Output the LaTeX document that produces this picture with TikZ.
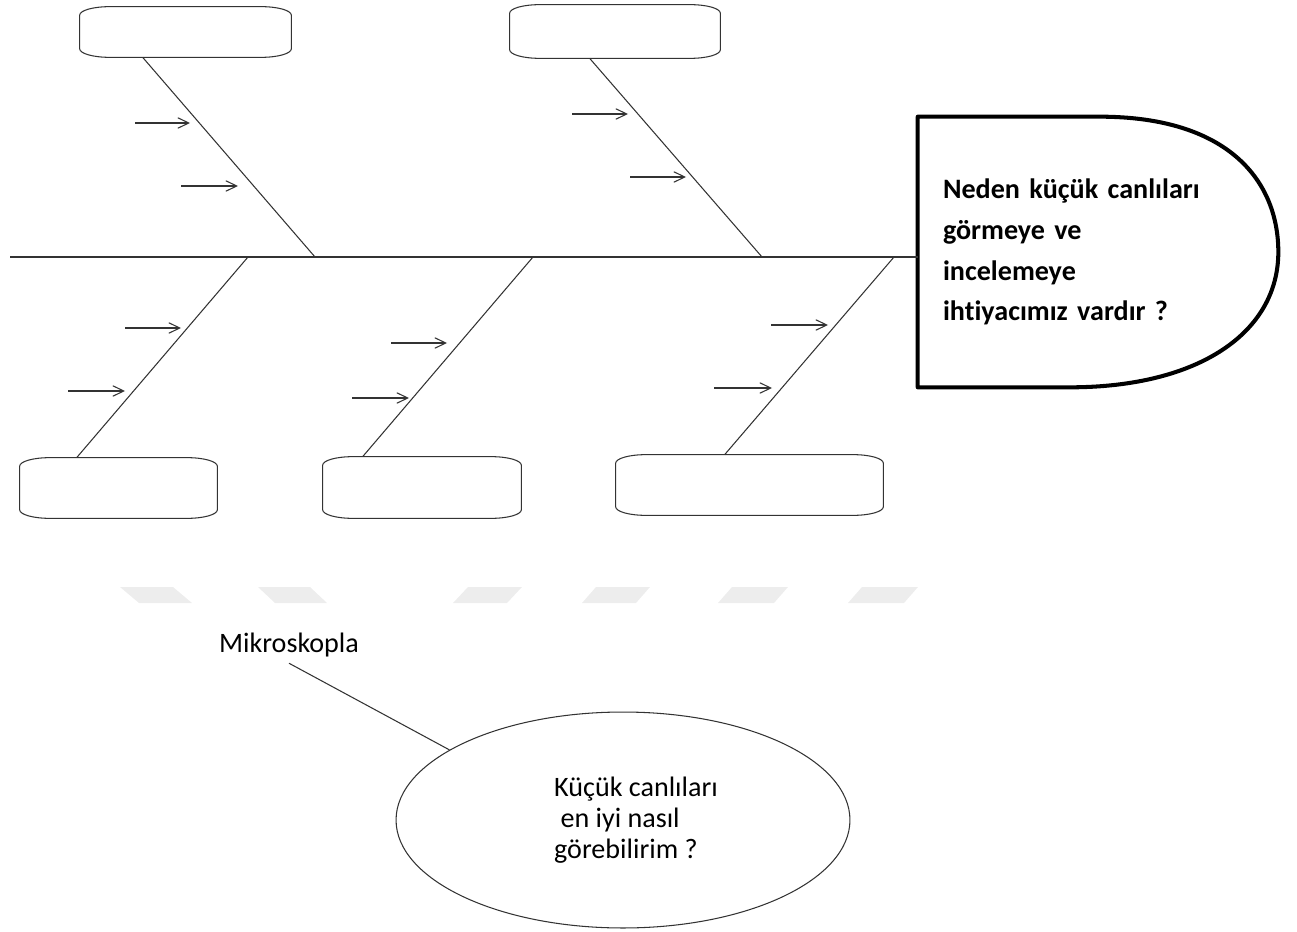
\documentclass[tikz,border=0pt]{standalone}
\usepackage{fontspec}
\setmainfont{Carlito}[Ligatures=NoCommon]
\newfontfamily\basfont{Carlito}[Ligatures=NoCommon, WordSpace=0.6]
\usetikzlibrary{arrows.meta,shapes.geometric}

\tikzset{
	ince/.style={line width=0.6pt, black!80},
	kutu/.style={draw=none, inner sep=0pt},
	okcuk/.style={ince, -{Straight Barb[length=2.2mm,width=2.1mm]}},
	filigran/.style={fill=black!7, draw=none},
	kalin/.style={line width=2.3pt, line join=round},
}

\newcommand{\kapsul}[1]{%
	\draw[ince] ([yshift=-0.17cm]#1.north west) arc[start angle=180, end angle=90, x radius=0.6cm, y radius=0.17cm]
	-- ([xshift=-0.6cm]#1.north east) arc[start angle=90, end angle=0, x radius=0.6cm, y radius=0.17cm]
	-- ([yshift=0.17cm]#1.south east) arc[start angle=0, end angle=-90, x radius=0.6cm, y radius=0.17cm]
	-- ([xshift=0.6cm]#1.south west) arc[start angle=270, end angle=180, x radius=0.6cm, y radius=0.17cm]
	-- cycle;}

\begin{document}
\begin{tikzpicture}[x=0.02cm, y=-0.02cm]
	\useasboundingbox (0,0) rectangle (1297,932);

	\foreach \a/\b/\c/\d in {120/173/192/139, 258/310/327/275, 468/522/507/453,
		596/650/636/582, 732/788/774/718, 862/918/904/848}
		\fill[filigran] (\a,587) -- (\b,587) -- (\c,603) -- (\d,603) -- cycle;

	\node [kutu, minimum width=4.22cm, minimum height=1cm] (kutu1) at (185.5,32) {};
	\node [kutu, minimum width=4.2cm, minimum height=1.06cm] (kutu2) at (615,31.5) {};
	\node [kutu, minimum width=3.94cm, minimum height=1.2cm] (kutu3) at (118.5,488) {};
	\node [kutu, minimum width=3.96cm, minimum height=1.22cm] (kutu4) at (422,487.5) {};
	\node [kutu, minimum width=5.34cm, minimum height=1.2cm] (kutu5) at (749.5,485) {};
	\foreach \k in {kutu1,kutu2,kutu3,kutu4,kutu5}
		\kapsul{\k};

	\node [kutu, minimum width=7.2cm, minimum height=5.4cm, text width=6.2cm, align=left,
		font=\basfont\bfseries\fontsize{16}{23.2}\selectfont] (bas) at (1098,252)
		{Neden küçük canlıları\\görmeye ve\\incelemeye\\ihtiyacımız vardır ?};
	\draw[kalin] (bas.north west) -- ([xshift=3.64cm]bas.north west)
		.. controls +(2.6cm,0) and +(0,1.4cm) .. (bas.east)
		.. controls +(0,-1.6cm) and +(2.6cm,0) .. ([xshift=3.04cm]bas.south west)
		-- (bas.south west) -- cycle;

	\coordinate (kuyruk) at (10,257);
	\coordinate (e1) at (315,257);
	\coordinate (e2) at (762,257);
	\coordinate (e3) at (248,257);
	\coordinate (e4) at (533,257);
	\coordinate (e5) at (894,257);

	\draw[ince] (kuyruk) -- (kuyruk -| bas.west);
	\draw[ince] ([xshift=1.26cm]kutu1.south west) -- (e1);
	\draw[ince] ([xshift=1.6cm]kutu2.south west) -- (e2);
	\draw[ince] (e3) -- ([xshift=1.14cm]kutu3.north west);
	\draw[ince] (e4) -- ([xshift=0.8cm]kutu4.north west);
	\draw[ince] (e5) -- ([xshift=2.18cm]kutu5.north west);

	\foreach \xa/\xb/\ya in {135/190/123, 181/238/186, 572/628/114, 630/686/177,
		125/181/328, 68/125/391, 391/447/343, 352/409/398, 771/828/325, 714/772/388}
		\draw[okcuk] (\xa,\ya) -- (\xb,\ya);

	\node [font=\fontsize{16}{18}\selectfont] (mikro) at (289,645) {Mikroskopla};
	\node [draw, ellipse, ince, minimum width=9.08cm, minimum height=4.32cm] (mercek) at (623,820) {};
	\node [align=left, font=\fontsize{16}{17.6}\selectfont] (soru) at ([xshift=0.26cm]mercek.center)
		{Küçük canlıları\\\ en iyi nasıl\\görebilirim ?};
	\draw[ince] (mikro.south) -- (mercek.158);
\end{tikzpicture}
\end{document}
